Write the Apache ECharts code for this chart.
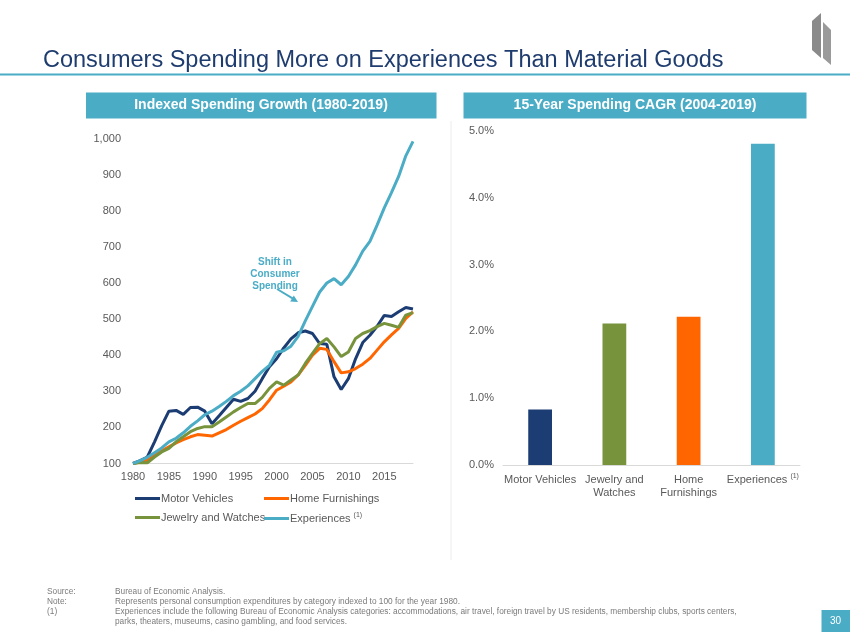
<!DOCTYPE html>
<html><head><meta charset="utf-8">
<script src="https://cdn.jsdelivr.net/npm/echarts@6/dist/echarts.min.js"></script>
<style>html,body{margin:0;padding:0;background:#fff}#c{width:850px;height:638px}</style>
</head><body><div id="c"></div>
<script>
const years = [];
for (let y = 1980; y <= 2019; y++) years.push(String(y));
const motorVehicles = [100,108,118,160,205,245,247,236,255,256,245,210,232,255,278,272,280,300,335,368,390,420,445,462,467,460,432,430,340,305,335,390,435,455,480,510,507,520,532,528];
const homeFurnishings = [100,104,109,123,135,146,157,166,174,180,178,176,185,194,206,217,227,237,252,276,303,314,326,345,372,400,419,416,382,351,354,363,375,391,414,437,456,474,502,520];
const jewelryWatches = [100,103,102,118,132,142,160,174,188,197,202,202,215,229,243,255,266,266,283,308,326,317,331,345,377,405,432,446,423,396,409,446,460,468,479,488,483,477,511,518];
const experiences = [100,108,117,130,143,160,170,185,203,218,235,245,258,272,288,300,315,335,355,372,408,412,425,452,495,535,575,600,612,595,618,650,688,715,760,808,850,895,952,992];
const lineTicks = [100,200,300,400,500,600,700,800,900,1000];
const barCategories = ['Motor Vehicles','Jewelry and\nWatches','Home\nFurnishings','Experiences {sup|(1)}'];
const cagr = [0.83, 2.12, 2.22, 4.81];
const seriesNames = ['Motor Vehicles','Home Furnishings','Jewelry and Watches','Experiences'];

const C_NAVY = '#1C3D74', C_ORANGE = '#FF6600', C_GREEN = '#77933C', C_TEAL = '#4BACC6';
const GRAY = '#595959';
const FONT = 'Liberation Sans, Arial, sans-serif';
const sup = {sup: {fontSize: 7, verticalAlign: 'top', color: GRAY, padding: [0,0,6,0]}};

const chart = echarts.init(document.getElementById('c'));
function legendFor(name, left, top) {
  return {
    data: [name], left: left, top: top, icon: 'rect', itemWidth: 25, itemHeight: 3,
    itemGap: 0, padding: 0,
    textStyle: {fontSize: 11, color: GRAY, fontFamily: FONT, padding: [0,0,0,-4], rich: sup},
    formatter: n => n === 'Experiences' ? 'Experiences {sup|(1)}' : n
  };
}
const footY = [592, 602, 612, 622];
const footStyle = {fontSize: 8.3, fill: '#7a7a7a', fontFamily: FONT, verticalAlign: 'middle'};
chart.setOption({
  animation: false,
  textStyle: {fontFamily: FONT},
  grid: [
    {left: 133, top: 138.5, width: 280, height: 325},
    {left: 503, top: 131, width: 297, height: 334}
  ],
  xAxis: [
    {type: 'category', gridIndex: 0, data: years, boundaryGap: false,
     axisTick: {show: false}, axisLine: {lineStyle: {color: '#d9d9d9', width: 1}},
     axisLabel: {interval: 4, color: GRAY, fontSize: 11, margin: 8}},
    {type: 'category', gridIndex: 1, data: barCategories,
     axisTick: {show: false}, axisLine: {lineStyle: {color: '#d9d9d9', width: 1}},
     axisLabel: {interval: 0, color: GRAY, fontSize: 11, margin: 8, lineHeight: 13, rich: sup}}
  ],
  yAxis: [
    {type: 'value', gridIndex: 0, min: lineTicks[0], max: lineTicks[lineTicks.length-1], interval: 100,
     splitLine: {show: false}, axisLine: {show: false}, axisTick: {show: false},
     axisLabel: {color: GRAY, fontSize: 11, margin: 12, formatter: v => v.toLocaleString('en-US')}},
    {type: 'value', gridIndex: 1, min: 0, max: 5, interval: 1,
     splitLine: {show: false}, axisLine: {show: false}, axisTick: {show: false},
     axisLabel: {color: GRAY, fontSize: 11, margin: 9, formatter: v => v.toFixed(1) + '%'}}
  ],
  legend: [
    legendFor('Motor Vehicles', 135, 493),
    legendFor('Home Furnishings', 264, 493),
    legendFor('Jewelry and Watches', 135, 512),
    legendFor('Experiences', 264, 512)
  ],
  series: [
    {name: seriesNames[0], type: 'line', data: motorVehicles, xAxisIndex: 0, yAxisIndex: 0, showSymbol: false, lineStyle: {width: 3, color: C_NAVY}, itemStyle: {color: C_NAVY}},
    {name: seriesNames[1], type: 'line', data: homeFurnishings, xAxisIndex: 0, yAxisIndex: 0, showSymbol: false, lineStyle: {width: 3, color: C_ORANGE}, itemStyle: {color: C_ORANGE}},
    {name: seriesNames[2], type: 'line', data: jewelryWatches, xAxisIndex: 0, yAxisIndex: 0, showSymbol: false, lineStyle: {width: 3, color: C_GREEN}, itemStyle: {color: C_GREEN}},
    {name: seriesNames[3], type: 'line', data: experiences, xAxisIndex: 0, yAxisIndex: 0, showSymbol: false, lineStyle: {width: 3, color: C_TEAL}, itemStyle: {color: C_TEAL}},
    {type: 'bar', xAxisIndex: 1, yAxisIndex: 1, barWidth: '32%',
     data: cagr.map((v, i) => ({value: v, itemStyle: {color: [C_NAVY, C_GREEN, C_ORANGE, C_TEAL][i]}}))}
  ],
  graphic: [
    {type: 'text', left: 43, top: 49, style: {text: 'Consumers Spending More on Experiences Than Material Goods', fontSize: 23.5, fill: '#1F3C6E', fontFamily: FONT}},
    {type: 'rect', shape: {x: 0, y: 73.5, width: 850, height: 2}, style: {fill: '#4BACC6'}},
    {type: 'polygon', shape: {points: [[812,21],[821,13],[821,58],[812,50]]}, style: {fill: '#8a8a8a'}},
    {type: 'polygon', shape: {points: [[823,22],[831,30],[831,65],[823,58]]}, style: {fill: '#9a9a9a'}},
    {type: 'rect', shape: {x: 86, y: 92.5, width: 350.5, height: 26}, style: {fill: '#4BACC6'}},
    {type: 'text', x: 261, y: 105.5, style: {text: 'Indexed Spending Growth (1980-2019)', fontSize: 14, fontWeight: 'bold', fill: '#fff', align: 'center', verticalAlign: 'middle', fontFamily: FONT}},
    {type: 'rect', shape: {x: 463.5, y: 92.5, width: 343, height: 26}, style: {fill: '#4BACC6'}},
    {type: 'text', x: 635, y: 105.5, style: {text: '15-Year Spending CAGR (2004-2019)', fontSize: 14, fontWeight: 'bold', fill: '#fff', align: 'center', verticalAlign: 'middle', fontFamily: FONT}},
    {type: 'line', shape: {x1: 451, y1: 121, x2: 451, y2: 560}, style: {stroke: '#ececec', lineWidth: 1}},
    {type: 'text', x: 275, y: 274, style: {text: 'Shift in\nConsumer\nSpending', fontSize: 10, fontWeight: 'bold', fill: '#4BACC6', align: 'center', verticalAlign: 'middle', lineHeight: 12, fontFamily: FONT}},
    {type: 'line', shape: {x1: 277, y1: 289, x2: 293, y2: 298.6}, style: {stroke: '#4BACC6', lineWidth: 2}},
    {type: 'polygon', shape: {points: [[298,302],[290.2,301.4],[293.8,295.4]]}, style: {fill: '#4BACC6'}},
    {type: 'text', x: 47, y: footY[0], style: Object.assign({text: 'Source:'}, footStyle)},
    {type: 'text', x: 115, y: footY[0], style: Object.assign({text: 'Bureau of Economic Analysis.'}, footStyle)},
    {type: 'text', x: 47, y: footY[1], style: Object.assign({text: 'Note:'}, footStyle)},
    {type: 'text', x: 115, y: footY[1], style: Object.assign({text: 'Represents personal consumption expenditures by category indexed to 100 for the year 1980.'}, footStyle)},
    {type: 'text', x: 47, y: footY[2], style: Object.assign({text: '(1)'}, footStyle)},
    {type: 'text', x: 115, y: footY[2], style: Object.assign({text: 'Experiences include the following Bureau of Economic Analysis categories: accommodations, air travel, foreign travel by US residents, membership clubs, sports centers,'}, footStyle)},
    {type: 'text', x: 115, y: footY[3], style: Object.assign({text: 'parks, theaters, museums, casino gambling, and food services.'}, footStyle)},
    {type: 'rect', shape: {x: 821.5, y: 610, width: 28.5, height: 22}, style: {fill: '#4BACC6'}},
    {type: 'text', x: 835.5, y: 621, style: {text: '30', fontSize: 10, fill: '#fff', align: 'center', verticalAlign: 'middle', fontFamily: FONT}}
  ]
});
</script></body></html>
